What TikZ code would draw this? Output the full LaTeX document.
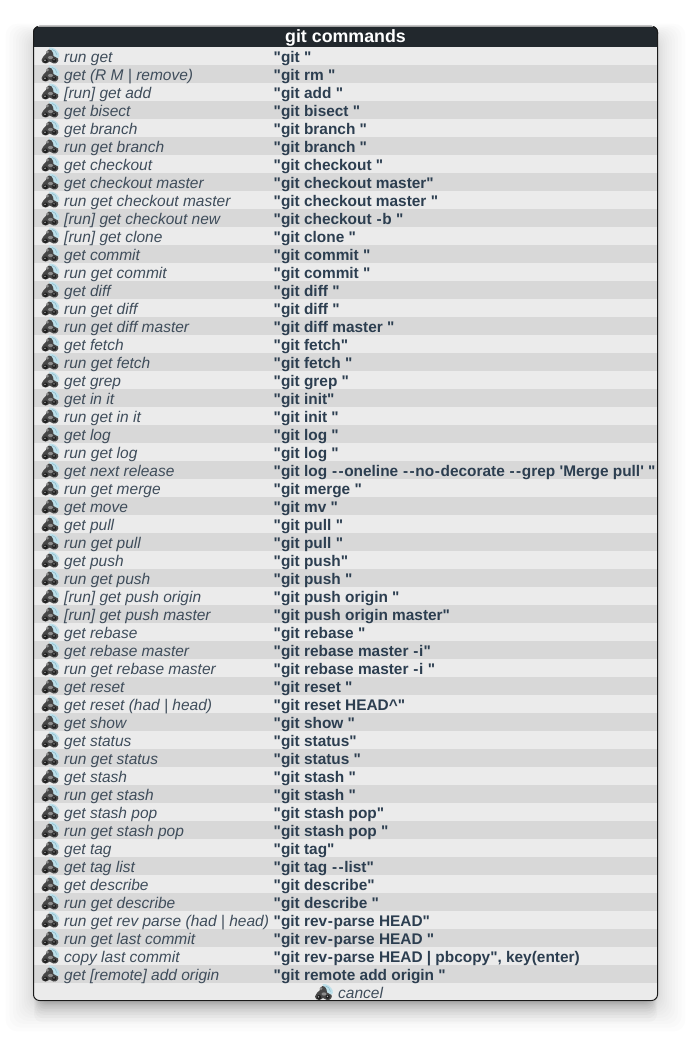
\documentclass[tikz,border=0pt]{standalone}
\usepackage{fontspec}
\newfontfamily\uifont{Liberation Sans}
\definecolor{hdr}{HTML}{22282D}
\definecolor{rowa}{HTML}{EBEBEB}
\definecolor{rowb}{HTML}{D8D8D8}
\definecolor{lefttx}{HTML}{3F4D5B}
\definecolor{righttx}{HTML}{2C3E50}
\definecolor{edge}{HTML}{1A1A1A}
\definecolor{fanblue}{HTML}{BEE0EA}
\definecolor{fandeep}{HTML}{8FBCCC}
\newcommand{\hy}{\kern.65pt-\kern.65pt}
\tikzset{x=1pt,y=-1pt,
 lefttext/.style={anchor=base west,inner sep=0pt,text=lefttx,font=\uifont\itshape\fontsize{15.5}{17}\selectfont},
 righttext/.style={anchor=base west,inner sep=0pt,text=righttx,font=\uifont\bfseries\fontsize{15.4}{17}\selectfont},
 titletext/.style={anchor=base,inner sep=0pt,text=white,font=\uifont\bfseries\fontsize{17.8}{19}\selectfont},
 pics/micon/.style={code={
   \fill[fanblue] (-1,-8.5) to[out=5,in=120] (9,-2.5) to[out=-60,in=20] (7.5,2.5) -- (1,-2) -- cycle;
   \draw[fandeep,line width=.6pt] (2,-6.5) to[out=0,in=110] (7,-1);
   \fill[black!72] (-8.5,4) to[out=60,in=210] (-4,-2) to[out=70,in=190] (-1,-6.5) to[out=10,in=110] (3,-3) -- (3.5,0) to[out=-20,in=150] (8,2.5) to[out=-60,in=60] (7.5,6) to[out=-120,in=0] (3.5,7.5) -- (-0.5,5.5) to[out=-150,in=0] (-4.5,7.5) to[out=180,in=-90] cycle;
   \fill[black!45] (-2.5,-4) circle (1.5) (0.5,1.5) ellipse (2.5 and 1.6);
   \fill[black!88] (-4.5,4.8) circle (2.3) (4.2,4.3) circle (2);
   \fill[black!30] (-5,4.3) circle (0.8) (4,3.8) circle (0.7);
 }}}
\begin{document}
\begin{tikzpicture}
\useasboundingbox[fill=white] (0,0) rectangle (691,1043);
% soft shadow
\foreach \s in {1,2,...,14}{
  \pgfmathsetmacro{\dd}{\s*\s*0.14}
  \fill[black,opacity=0.013,rounded corners=12pt] (33-\dd,30-\dd*0.45+6) rectangle (658+\dd,1001+\dd+3);
}
\foreach \s in {1,2,...,10}{
  \pgfmathsetmacro{\dd}{\s*\s*0.2}
  \fill[black,opacity=0.02,rounded corners=8pt] (40-\dd*0.3,990) rectangle (651+\dd*0.3,1001+\dd+1);
}
% window
\fill[rowa,rounded corners=6pt] (33,26) rectangle (658,1001);
\foreach \i [evaluate=\i as \yy using {47+18*(\i-1)}] in {2,4,...,52}{
  \fill[rowb] (34,\yy) rectangle (657,\yy+18);
}
\fill[hdr,rounded corners=6pt] (33,26) rectangle (658,40);
\fill[hdr] (33,34) rectangle (658,47);
\draw[edge,line width=1pt,rounded corners=6pt] (33.5,26.5) rectangle (657.5,1000.5);
\draw[gray!70,line width=1pt] (38,26.5) -- (653,26.5);
\node[titletext] (title) at (345.5,42.5) {git commands};
\foreach \a/\b [count=\i, evaluate=\i as \yy using {47+18*(\i-1)}] in {%
 {run get}/{"git "},
 {get (R M | remove)}/{"git rm "},
 {[run] get add}/{"git add "},
 {get bisect}/{"git bisect "},
 {get branch}/{"git branch "},
 {run get branch}/{"git branch "},
 {get checkout}/{"git checkout "},
 {get checkout master}/{"git checkout master"},
 {run get checkout master}/{"git checkout master "},
 {[run] get checkout new}/{"git checkout \hy b "},
 {[run] get clone}/{"git clone "},
 {get commit}/{"git commit "},
 {run get commit}/{"git commit "},
 {get diff}/{"git diff "},
 {run get diff}/{"git diff "},
 {run get diff master}/{"git diff master "},
 {get fetch}/{"git fetch"},
 {run get fetch}/{"git fetch "},
 {get grep}/{"git grep "},
 {get in it}/{"git init"},
 {run get in it}/{"git init "},
 {get log}/{"git log "},
 {run get log}/{"git log "},
 {get next release}/{"git log \hy\hy oneline \hy\hy no\hy decorate \hy\hy grep 'Merge pull' "},
 {run get merge}/{"git merge "},
 {get move}/{"git mv "},
 {get pull}/{"git pull "},
 {run get pull}/{"git pull "},
 {get push}/{"git push"},
 {run get push}/{"git push "},
 {[run] get push origin}/{"git push origin "},
 {[run] get push master}/{"git push origin master"},
 {get rebase}/{"git rebase "},
 {get rebase master}/{"git rebase master \hy i"},
 {run get rebase master}/{"git rebase master \hy i "},
 {get reset}/{"git reset "},
 {get reset (had | head)}/{"git reset HEAD\string^"},
 {get show}/{"git show "},
 {get status}/{"git status"},
 {run get status}/{"git status "},
 {get stash}/{"git stash "},
 {run get stash}/{"git stash "},
 {get stash pop}/{"git stash pop"},
 {run get stash pop}/{"git stash pop "},
 {get tag}/{"git tag"},
 {get tag list}/{"git tag \hy\hy list"},
 {get describe}/{"git describe"},
 {run get describe}/{"git describe "},
 {run get rev parse (had | head)}/{"git rev\hy parse HEAD"},
 {run get last commit}/{"git rev\hy parse HEAD "},
 {copy last commit}/{{"git rev\hy parse HEAD | pbcopy", key(enter)}},
 {get [remote] add origin}/{"git remote add origin "}%
}{
  \pic at (50,\yy+9) {micon};
  \node[lefttext] (l\i) at (64,\yy+15.2) {\a};
  \node[righttext] (r\i) at (273.5,\yy+15.2) {\b};
}
\pic at (323.5,992.5) {micon};
\node[lefttext] (cancel) at (338,998) {cancel};
\end{tikzpicture}
\end{document}
